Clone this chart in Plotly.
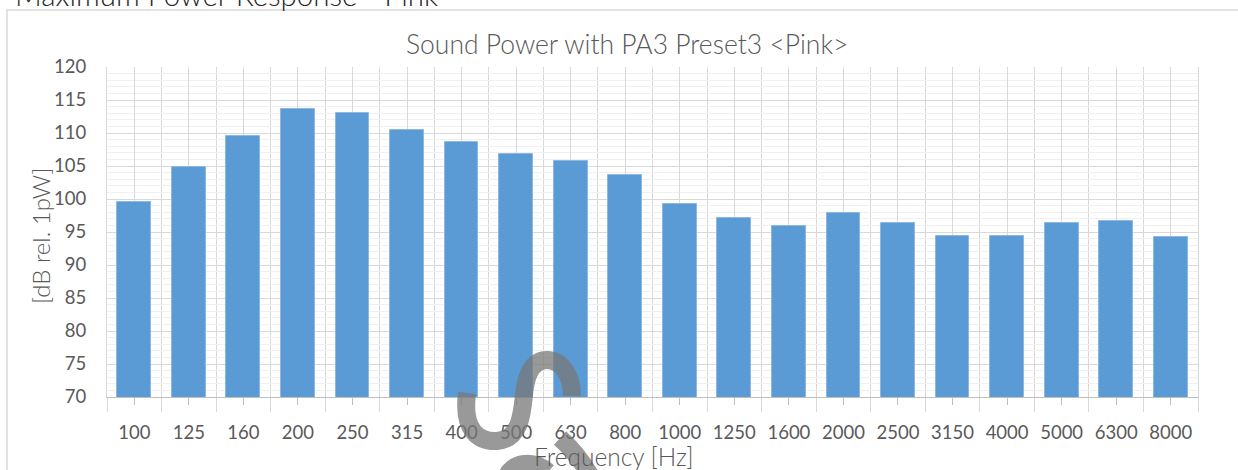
import plotly.graph_objects as go

categories = ["100", "125", "160", "200", "250", "315", "400", "500", "630", "800",
              "1000", "1250", "1600", "2000", "2500", "3150", "4000", "5000", "6300", "8000"]
sound_power = [99.5, 104.9, 109.6, 113.6, 113.0, 110.4, 108.7, 106.8, 105.8, 103.7,
               99.2, 97.1, 95.9, 97.9, 96.3, 94.4, 94.4, 96.4, 96.7, 94.3]

chart_title = "Sound Power with PA3 Preset3 <Pink>"
page_title = "Maximum Power Response - Pink"
y_title = "[dB rel. 1pW]"
x_title = "Frequency [Hz]"

W_PX, H_PX = 1238, 470
L, R, T, B = 107, 40, 67, 73
PW = W_PX - L - R
PH = H_PX - T - B
BOT = H_PX - B

def X(px):
    return (px - L) / PW

def Y(py):
    return (BOT - py) / PH

FONT = "Lato"
TXT = "#595959"

idx = list(range(len(categories)))

fig = go.Figure()
fig.add_trace(go.Bar(
    x=idx, y=sound_power, width=0.62,
    marker=dict(color="#5B9BD5", line=dict(color="#8DB8E2", width=1)),
    hoverinfo="x+y", showlegend=False,
))

fig.update_layout(
    width=W_PX, height=H_PX,
    margin=dict(l=L, r=R, t=T, b=B, pad=0),
    paper_bgcolor="white", plot_bgcolor="white",
    font=dict(family=FONT, color=TXT, size=18),
    bargap=0,
)

fig.update_xaxes(
    range=[-0.5, len(categories) - 0.5],
    tickmode="array", tickvals=idx, ticktext=categories,
    ticks="outside", ticklen=7, tickcolor="#BFBFBF", tickwidth=1,
    showgrid=True, gridcolor="#D9D9D9", gridwidth=1,
    showline=True, linecolor="#BFBFBF", linewidth=1,
    tickfont=dict(size=18.5, color=TXT),
    ticklabelstandoff=12,
    minor=dict(tick0=-0.5, dtick=1, ticks="outside", ticklen=14,
               tickcolor="#D9D9D9", showgrid=True, gridcolor="#D9D9D9", gridwidth=1),
    zeroline=False, layer="below traces",
)
fig.update_yaxes(
    range=[70, 120], tick0=70, dtick=5,
    showgrid=True, gridcolor="#D9D9D9", gridwidth=1,
    minor=dict(dtick=1, showgrid=True, gridcolor="#F0F0F0", gridwidth=1),
    showline=True, linecolor="#D9D9D9", mirror=True,
    ticks="", tickfont=dict(size=18.5, color=TXT),
    ticklabelstandoff=16, zeroline=False,
)

shapes = []
# outer chart border
shapes.append(dict(type="rect", xref="paper", yref="paper",
                   x0=X(7), x1=X(1260), y0=Y(500), y1=Y(10),
                   line=dict(color="#D9D9D9", width=1.5), fillcolor="rgba(0,0,0,0)", layer="below"))

# watermark strokes
wm = "rgba(119,119,119,0.75)"
paths = [
    f"M {X(467)},{Y(393)} C {X(462)},{Y(432)} {X(480)},{Y(442)} {X(497)},{Y(441)} "
    f"C {X(520)},{Y(439)} {X(522)},{Y(415)} {X(524)},{Y(395)} "
    f"C {X(526)},{Y(372)} {X(534)},{Y(360)} {X(547)},{Y(360)} "
    f"C {X(562)},{Y(360)} {X(572)},{Y(376)} {X(572)},{Y(396)}",
    f"M {X(506)},{Y(478)} C {X(511)},{Y(463)} {X(532)},{Y(458)} {X(548)},{Y(472)}",
    f"M {X(560)},{Y(438)} C {X(570)},{Y(447)} {X(580)},{Y(458)} {X(590)},{Y(475)}",
]
for p in paths:
    shapes.append(dict(type="path", xref="paper", yref="paper", path=p,
                       line=dict(color=wm, width=18), layer="above"))
fig.update_layout(shapes=shapes)

ann = [
    dict(text=chart_title, x=X(627), y=Y(44), xref="paper", yref="paper",
         showarrow=False, xanchor="center", yanchor="middle",
         font=dict(family=FONT, size=26.5, color=TXT, weight=300)),
    dict(text=y_title, x=X(40), y=Y(236), xref="paper", yref="paper",
         showarrow=False, xanchor="center", yanchor="middle", textangle=-90,
         font=dict(family=FONT, size=24, color=TXT, weight=300)),
    dict(text=x_title, x=X(614), y=Y(456), xref="paper", yref="paper",
         showarrow=False, xanchor="center", yanchor="middle",
         font=dict(family=FONT, size=24.5, color=TXT, weight=300)),
    dict(text=page_title, x=X(13), y=Y(-6), xref="paper", yref="paper",
         showarrow=False, xanchor="left", yanchor="middle",
         font=dict(family=FONT, size=29.5, color="#262626", weight=300)),
]
fig.update_layout(annotations=ann)

fig.write_html("out.html",
               config={"displayModeBar": False},
               post_script="document.body.style.margin='0';document.body.style.overflow='hidden';")
